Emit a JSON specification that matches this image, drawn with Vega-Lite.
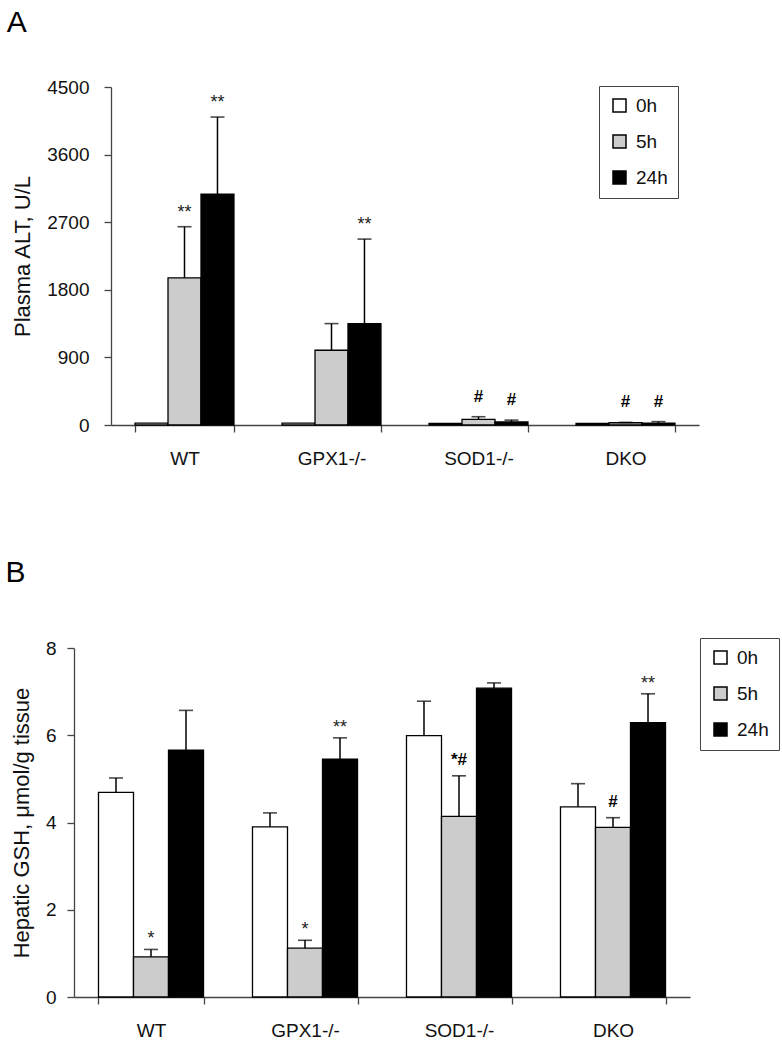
{
  "$schema": "https://vega.github.io/schema/vega-lite/v6.json",
  "padding": {"left": 5, "top": 8, "right": 0, "bottom": 0},
  "datasets": {
    "alt": [
      {"genotype": "WT", "time": "0h", "v": 25, "hi": null, "sig": ""},
      {"genotype": "WT", "time": "5h", "v": 1960, "hi": 2640, "sig": "**"},
      {"genotype": "WT", "time": "24h", "v": 3075, "hi": 4100, "sig": "**"},
      {"genotype": "GPX1-/-", "time": "0h", "v": 25, "hi": null, "sig": ""},
      {"genotype": "GPX1-/-", "time": "5h", "v": 995, "hi": 1350, "sig": ""},
      {"genotype": "GPX1-/-", "time": "24h", "v": 1350, "hi": 2475, "sig": "**"},
      {"genotype": "SOD1-/-", "time": "0h", "v": 20, "hi": null, "sig": ""},
      {"genotype": "SOD1-/-", "time": "5h", "v": 75, "hi": 110, "sig": "#"},
      {"genotype": "SOD1-/-", "time": "24h", "v": 40, "hi": 65, "sig": "#"},
      {"genotype": "DKO", "time": "0h", "v": 20, "hi": null, "sig": ""},
      {"genotype": "DKO", "time": "5h", "v": 30, "hi": 35, "sig": "#"},
      {"genotype": "DKO", "time": "24h", "v": 25, "hi": 45, "sig": "#"}
    ],
    "gsh": [
      {"genotype": "WT", "time": "0h", "v": 4.69, "hi": 5.02, "sig": ""},
      {"genotype": "WT", "time": "5h", "v": 0.92, "hi": 1.09, "sig": "*"},
      {"genotype": "WT", "time": "24h", "v": 5.66, "hi": 6.57, "sig": ""},
      {"genotype": "GPX1-/-", "time": "0h", "v": 3.90, "hi": 4.22, "sig": ""},
      {"genotype": "GPX1-/-", "time": "5h", "v": 1.12, "hi": 1.30, "sig": "*"},
      {"genotype": "GPX1-/-", "time": "24h", "v": 5.45, "hi": 5.94, "sig": "**"},
      {"genotype": "SOD1-/-", "time": "0h", "v": 5.99, "hi": 6.78, "sig": ""},
      {"genotype": "SOD1-/-", "time": "5h", "v": 4.14, "hi": 5.07, "sig": "*#"},
      {"genotype": "SOD1-/-", "time": "24h", "v": 7.08, "hi": 7.20, "sig": ""},
      {"genotype": "DKO", "time": "0h", "v": 4.36, "hi": 4.89, "sig": ""},
      {"genotype": "DKO", "time": "5h", "v": 3.89, "hi": 4.11, "sig": "#"},
      {"genotype": "DKO", "time": "24h", "v": 6.29, "hi": 6.95, "sig": "**"}
    ]
  },
  "spacing": 89,
  "resolve": {
    "scale": {"x": "independent", "y": "independent", "xOffset": "independent", "color": "independent"},
    "legend": {"color": "independent"}
  },
  "vconcat": [
    {
      "width": 625,
      "height": 338,
      "title": {"text": "A", "anchor": "start", "frame": "bounds", "fontSize": 30, "fontWeight": "normal", "offset": 40, "dx": -5},
      "data": {"name": "alt"},
      "encoding": {
        "x": {
          "field": "genotype", "type": "nominal",
          "sort": ["WT", "GPX1-/-", "SOD1-/-", "DKO"],
          "scale": {"range": [37, 625], "paddingInner": 0.327, "paddingOuter": 0.1635},
          "axis": {"title": null, "labelAngle": 0, "tickBand": "extent"}
        },
        "xOffset": {"field": "time", "type": "nominal", "sort": ["0h", "5h", "24h"], "scale": {"paddingInner": 0, "paddingOuter": 0}}
      },
      "layer": [
        {
          "mark": {"type": "bar", "stroke": "black", "strokeWidth": 1.3},
          "encoding": {
            "y": {"field": "v", "type": "quantitative", "scale": {"domain": [0, 4500], "nice": false},
                  "axis": {"values": [0, 900, 1800, 2700, 3600, 4500], "format": "d", "labelPadding": 15, "offset": -37, "title": "Plasma ALT, U/L"}},
            "color": {"field": "time", "type": "nominal", "sort": ["0h", "5h", "24h"],
                      "scale": {"domain": ["0h", "5h", "24h"], "range": ["white", "#cccccc", "black"]},
                      "legend": {"orient": "none", "legendX": 525, "legendY": -1}}
          }
        },
        {
          "transform": [{"filter": "datum.hi != null"}],
          "mark": {"type": "rule", "color": "black", "strokeWidth": 1.5},
          "encoding": {"y": {"field": "v", "type": "quantitative"}, "y2": {"field": "hi"}}
        },
        {
          "transform": [{"filter": "datum.hi != null"}],
          "mark": {"type": "tick", "color": "black", "size": 14, "thickness": 1.6, "orient": "horizontal"},
          "encoding": {"y": {"field": "hi", "type": "quantitative"}}
        },
        {
          "transform": [{"filter": "datum.sig != '' && indexof(datum.sig, '#') < 0"}],
          "mark": {"type": "text", "fontSize": 18, "color": "#222", "dy": -9, "baseline": "alphabetic"},
          "encoding": {"y": {"field": "hi", "type": "quantitative"}, "text": {"field": "sig"}}
        },
        {
          "transform": [{"filter": "indexof(datum.sig, '#') >= 0"}],
          "mark": {"type": "text", "fontSize": 17, "fontWeight": "bold", "color": "black", "dy": -15, "baseline": "alphabetic"},
          "encoding": {"y": {"field": "hi", "type": "quantitative"}, "text": {"field": "sig"}}
        }
      ]
    },
    {
      "width": 616,
      "height": 349,
      "title": {"text": "B", "anchor": "start", "frame": "bounds", "fontSize": 30, "fontWeight": "normal", "offset": 50, "dx": -5},
      "data": {"name": "gsh"},
      "encoding": {
        "x": {
          "field": "genotype", "type": "nominal",
          "sort": ["WT", "GPX1-/-", "SOD1-/-", "DKO"],
          "scale": {"paddingInner": 0.318, "paddingOuter": 0.159},
          "axis": {"title": null, "labelAngle": 0, "tickBand": "extent"}
        },
        "xOffset": {"field": "time", "type": "nominal", "sort": ["0h", "5h", "24h"], "scale": {"paddingInner": 0, "paddingOuter": 0}}
      },
      "layer": [
        {
          "mark": {"type": "bar", "stroke": "black", "strokeWidth": 1.3},
          "encoding": {
            "y": {"field": "v", "type": "quantitative", "scale": {"domain": [0, 8], "nice": false},
                  "axis": {"values": [0, 2, 4, 6, 8], "labelPadding": 11, "title": "Hepatic GSH, μmol/g tissue"}},
            "color": {"field": "time", "type": "nominal", "sort": ["0h", "5h", "24h"],
                      "scale": {"domain": ["0h", "5h", "24h"], "range": ["white", "#cccccc", "black"]},
                      "legend": {"orient": "none", "legendX": 626, "legendY": -10}}
          }
        },
        {
          "mark": {"type": "rule", "color": "black", "strokeWidth": 1.5},
          "encoding": {"y": {"field": "v", "type": "quantitative"}, "y2": {"field": "hi"}}
        },
        {
          "mark": {"type": "tick", "color": "black", "size": 14, "thickness": 1.6, "orient": "horizontal"},
          "encoding": {"y": {"field": "hi", "type": "quantitative"}}
        },
        {
          "transform": [{"filter": "datum.sig != '' && indexof(datum.sig, '#') < 0"}],
          "mark": {"type": "text", "fontSize": 18, "color": "#222", "dy": -5, "baseline": "alphabetic"},
          "encoding": {"y": {"field": "hi", "type": "quantitative"}, "text": {"field": "sig"}}
        },
        {
          "transform": [{"filter": "indexof(datum.sig, '#') >= 0"}],
          "mark": {"type": "text", "fontSize": 17, "fontWeight": "bold", "color": "black", "dy": -11, "baseline": "alphabetic"},
          "encoding": {"y": {"field": "hi", "type": "quantitative"}, "text": {"field": "sig"}}
        }
      ]
    }
  ],
  "config": {
    "font": "Liberation Sans",
    "view": {"stroke": null},
    "title": {"color": "black", "font": "Liberation Sans"},
    "axis": {
      "grid": false,
      "labelFont": "Liberation Sans",
      "titleFont": "Liberation Sans",
      "labelFontSize": 19,
      "labelColor": "#111",
      "titleFontSize": 22,
      "titleFontWeight": "normal",
      "titleColor": "#111",
      "domainColor": "#444",
      "tickColor": "#444",
      "domainWidth": 1.3,
      "tickWidth": 1.3,
      "tickSize": 7
    },
    "axisY": {"titlePadding": 12},
    "axisX": {"labelPadding": 17, "labelFontSize": 19},
    "legend": {
      "title": null,
      "strokeColor": "#444",
      "fillColor": "white",
      "padding": 10,
      "symbolType": "square",
      "symbolSize": 169,
      "symbolStrokeColor": "black",
      "symbolStrokeWidth": 1.5,
      "symbolOpacity": 1,
      "labelFontSize": 19,
      "labelColor": "#111",
      "labelOffset": 7,
      "rowPadding": 16,
      "symbolOffset": 1
    }
  }
}
